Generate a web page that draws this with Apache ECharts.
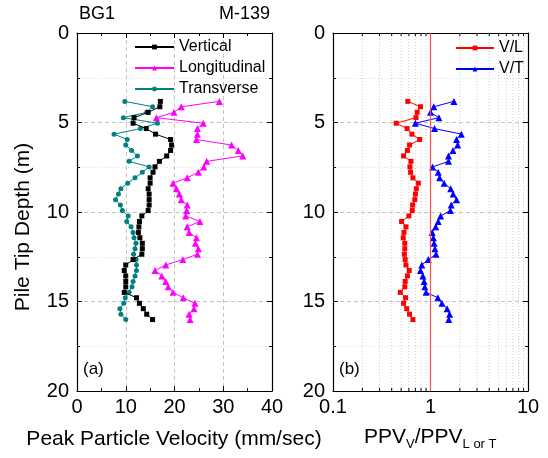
<!DOCTYPE html>
<html><head><meta charset="utf-8">
<script src="https://cdn.jsdelivr.net/npm/echarts@6/dist/echarts.min.js"></script>
<style>html,body{margin:0;padding:0;background:#fff}#c{width:548px;height:458px}</style>
</head><body><div id="c"></div>
<script>
// Pile tip depth (m)
const depth = [3.82,4.12,4.43,4.73,5.04,5.34,5.65,5.95,6.26,6.56,6.87,7.17,7.48,7.78,8.09,8.39,8.70,9.00,9.31,9.61,9.92,10.22,10.53,10.83,11.14,11.44,11.75,12.05,12.36,12.66,12.96,13.27,13.57,13.88,14.18,14.49,14.79,15.10,15.40,15.71,16.01];
// Peak particle velocity (mm/sec)
const vertical = [17.1,17.0,14.6,11.7,11.5,14.2,16.1,19.2,19.4,19.2,18.4,16.9,16.0,15.6,15.0,15.0,14.6,14.8,14.8,14.8,14.6,13.3,12.8,12.7,12.6,12.9,13.4,13.4,13.3,11.5,10.0,9.7,10.0,10.0,10.0,9.7,12.2,12.8,13.6,14.3,15.5];
const longitudinal = [29.2,21.4,19.9,16.3,25.9,24.7,24.7,24.5,31.7,33.1,34.0,26.6,26.0,24.9,22.6,19.7,20.4,21.0,21.4,22.6,22.5,22.3,25.2,22.6,23.0,24.5,24.3,24.9,24.7,21.7,18.2,16.0,17.4,18.2,18.7,19.7,21.8,24.2,24.0,23.0,23.2];
const transverse = [9.8,15.5,14.3,9.5,16.5,13.0,7.6,10.3,10.0,11.2,12.4,10.7,14.8,13.4,11.9,10.4,9.0,8.5,7.9,8.9,9.3,10.5,10.2,11.1,11.5,11.7,12.1,11.9,11.6,12.1,12.2,12.2,11.9,11.5,11.3,10.7,9.9,9.6,8.8,9.0,10.0];
// PPV ratios
const ratioVL = [0.585,0.79,0.73,0.71,0.445,0.575,0.645,0.775,0.61,0.58,0.53,0.63,0.615,0.625,0.66,0.75,0.715,0.70,0.69,0.655,0.65,0.60,0.505,0.56,0.535,0.525,0.545,0.545,0.54,0.55,0.56,0.605,0.58,0.55,0.545,0.49,0.555,0.53,0.57,0.61,0.66];
const ratioVT = [1.74,1.08,1.0,1.22,0.70,1.10,2.07,1.85,1.90,1.70,1.53,1.53,1.05,1.20,1.24,1.38,1.61,1.71,1.85,1.63,1.60,1.27,1.20,1.13,1.04,1.07,1.09,1.11,1.14,0.95,0.815,0.79,0.835,0.86,0.875,0.90,1.19,1.31,1.48,1.57,1.54];
const logMinor = [0.2,0.3,0.4,0.5,0.6,0.7,0.8,0.9,2,3,4,5,6,7,8,9];
const refRatio = 1;

const FONT = '"Liberation Sans", Arial, sans-serif';
const pair = (xs) => xs.map((v, i) => [v, depth[i]]);

const gridLine = {show:true, lineStyle:{color:'#c4c4c4', type:[4,3], width:1}};
const minorGrid = {show:true, lineStyle:{color:'#dcdcdc', type:[1,2], width:1}};
const axisLine = {show:true, onZero:false, lineStyle:{color:'#000', width:1.2}};
const tick = {show:true, inside:true, length:5, lineStyle:{color:'#000'}};
const minorTick = {show:true, splitNumber:2, length:3, lineStyle:{color:'#000'}};
const label = {fontSize:20, color:'#000', fontFamily:FONT};
const legendText = {fontSize:16, lineHeight:16, color:'#000', fontFamily:FONT};

function yAx(grid, pos, showLabel) {
  return {type:'value', gridIndex:grid, position:pos, min:0, max:20, interval:5, inverse:true,
    axisLine, axisTick:tick, minorTick,
    axisLabel: showLabel ? Object.assign({margin:8}, label) : {show:false},
    splitLine: showLabel ? gridLine : {show:false},
    minorSplitLine: showLabel ? minorGrid : {show:false}};
}

const chart = echarts.init(document.getElementById('c'), null, {renderer:'canvas'});
chart.setOption({
  animation:false,
  backgroundColor:'#fff',
  textStyle:{fontFamily:FONT},
  grid:[
    {left:77, top:33, width:195, height:358},
    {left:333, top:33, width:195, height:358}
  ],
  xAxis:[
    {type:'value', gridIndex:0, position:'bottom', min:0, max:40, interval:10,
      axisLine, axisTick:tick, minorTick, axisLabel:Object.assign({margin:6}, label),
      splitLine:gridLine},
    {type:'value', gridIndex:0, position:'top', min:0, max:40, interval:10,
      axisLine, axisTick:tick, minorTick, axisLabel:{show:false}, splitLine:{show:false}},
    {type:'log', logBase:10, gridIndex:1, position:'bottom', min:0.1, max:10,
      axisLine, axisTick:tick, axisLabel:Object.assign({margin:6, formatter:(v)=>String(+v.toPrecision(3))}, label),
      splitLine:{show:false}},
    {type:'log', logBase:10, gridIndex:1, position:'top', min:0.1, max:10,
      axisLine, axisTick:tick, axisLabel:{show:false}, splitLine:{show:false}}
  ],
  yAxis:[ yAx(0,'left',true), yAx(0,'right',false), yAx(1,'left',true), yAx(1,'right',false) ],
  legend:[
    {data:['Vertical','Longitudinal','Transverse'], orient:'vertical', left:134, top:39, padding:0,
      itemWidth:39, itemHeight:6, itemGap:5, textStyle:legendText},
    {data:['V/L','V/T'], orient:'vertical', left:455, top:40, padding:0,
      itemWidth:38, itemHeight:6, itemGap:5, textStyle:legendText}
  ],
  series:[
    {type:'custom', xAxisIndex:2, yAxisIndex:2, silent:true, z:1,
      data: logMinor.map(v=>[v,0]), encode:{x:0, y:1},
      renderItem(params, api){
        const v = api.value(0);
        const a = api.coord([v, 0]);
        const b = api.coord([v, 20]);
        return {type:'group', children:[
          {type:'line', shape:{x1:a[0],y1:a[1],x2:b[0],y2:b[1]}, style:{stroke:'#cfcfcf', lineDash:[1,2], lineWidth:1}},
          {type:'line', shape:{x1:a[0],y1:a[1],x2:a[0],y2:a[1]+3}, style:{stroke:'#000', lineWidth:1}},
          {type:'line', shape:{x1:b[0],y1:b[1],x2:b[0],y2:b[1]-3}, style:{stroke:'#000', lineWidth:1}}
        ]};
      }},
    {name:'Vertical', type:'line', xAxisIndex:0, yAxisIndex:0, data:pair(vertical),
      symbol:'rect', symbolSize:5, color:'#000', lineStyle:{width:1}, z:4},
    {name:'Longitudinal', type:'line', xAxisIndex:0, yAxisIndex:0, data:pair(longitudinal),
      symbol:'triangle', symbolSize:7, color:'#ff00ff', lineStyle:{width:1}, z:3},
    {name:'Transverse', type:'line', xAxisIndex:0, yAxisIndex:0, data:pair(transverse),
      symbol:'circle', symbolSize:5, color:'#008080', lineStyle:{width:1}, z:3},
    {name:'V/L', type:'line', xAxisIndex:2, yAxisIndex:2, data:pair(ratioVL),
      symbol:'rect', symbolSize:5, color:'#ff0000', lineStyle:{width:1}, z:4,
      markLine:{silent:true, symbol:'none', label:{show:false},
        lineStyle:{color:'#ff5050', type:'solid', width:1.2}, data:[{xAxis:refRatio}]}},
    {name:'V/T', type:'line', xAxisIndex:2, yAxisIndex:2, data:pair(ratioVT),
      symbol:'triangle', symbolSize:7, color:'#0000ff', lineStyle:{width:1}, z:3}
  ],
  graphic:[
    {type:'text', left:79, top:5, style:{text:'BG1', fontSize:18, fill:'#000', fontFamily:FONT}},
    {type:'text', left:219, top:5, style:{text:'M-139', fontSize:18, fill:'#000', fontFamily:FONT}},
    {type:'text', left:83, top:361, style:{text:'(a)', fontSize:17, fill:'#000', fontFamily:FONT}},
    {type:'text', left:339, top:361, style:{text:'(b)', fontSize:17, fill:'#000', fontFamily:FONT}},
    {type:'text', x:23, y:227, rotation:Math.PI/2,
      style:{text:'Pile Tip Depth (m)', fontSize:21, fill:'#000', fontFamily:FONT, align:'center', verticalAlign:'middle'}},
    {type:'text', x:174, y:439,
      style:{text:'Peak Particle Velocity (mm/sec)', fontSize:21, fill:'#000', fontFamily:FONT, align:'center', verticalAlign:'middle'}},
    {type:'text', x:364, y:427,
      style:{text:'{m|PPV}{s|V}{m|/PPV}{s|L or T}', fill:'#000', fontFamily:FONT,
        rich:{m:{fontSize:21, lineHeight:24, fontFamily:FONT, verticalAlign:'top'},
              s:{fontSize:13, lineHeight:13, fontFamily:FONT, verticalAlign:'bottom'}}}}
  ]
});
</script></body></html>
